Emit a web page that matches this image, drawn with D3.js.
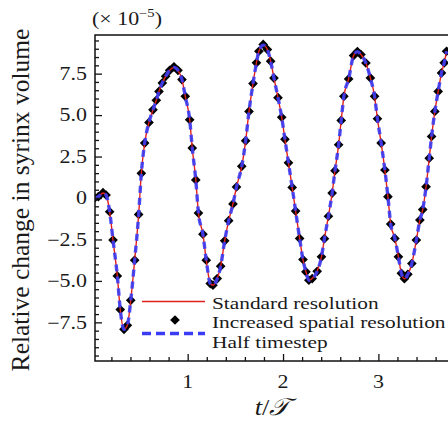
<!DOCTYPE html>
<html><head><meta charset="utf-8">
<script src="https://cdn.jsdelivr.net/npm/d3@7"></script>
<style>
html,body{margin:0;padding:0;background:#fff;overflow:hidden}
text{font-family:"Liberation Serif","Times New Roman",serif;fill:#1a1a1a}
</style></head><body>
<script>
// time samples t/T
const tValues = [0.025,0.063,0.112,0.144,0.182,0.217,0.262,0.293,0.332,0.367,0.403,0.444,0.486,0.514,0.549,0.594,0.636,0.671,0.699,0.734,0.769,0.811,0.856,0.898,0.940,0.975,1.021,1.048,1.085,1.113,1.160,1.195,1.237,1.265,1.310,1.346,1.388,1.430,1.475,1.512,1.567,1.608,1.643,1.685,1.721,1.747,1.792,1.836,1.870,1.905,1.947,1.986,2.020,2.057,2.096,2.132,2.174,2.209,2.240,2.271,2.306,2.358,2.403,2.434,2.476,2.515,2.545,2.583,2.610,2.638,2.688,2.740,2.780,2.817,2.869,2.916,2.960,2.990,3.029,3.068,3.100,3.129,3.173,3.210,3.241,3.273,3.309,3.351,3.398,3.435,3.465,3.500,3.533,3.558,3.592,3.627,3.662,3.690,3.715];
// relative change in syrinx volume (x 1e-5)
const standardRes = [0.00,0.08,0.30,0.18,-0.83,-2.54,-4.70,-6.73,-7.92,-7.68,-6.17,-3.75,-0.99,1.49,3.31,4.56,5.32,5.89,6.43,6.94,7.34,7.70,7.88,7.70,7.14,6.13,4.72,3.01,1.09,-0.91,-2.18,-3.75,-5.16,-5.26,-4.86,-4.11,-2.58,-1.37,-0.36,0.67,1.91,3.45,5.22,6.90,8.15,8.85,9.22,8.95,8.25,7.23,6.05,4.87,3.54,2.12,0.64,-0.79,-2.44,-3.71,-4.45,-4.96,-4.86,-4.42,-3.55,-2.45,-1.10,0.30,1.65,3.21,4.68,6.13,7.18,8.59,8.83,8.65,8.14,7.24,6.13,4.78,3.31,1.69,0.08,-1.57,-2.44,-3.55,-4.54,-4.87,-4.60,-3.95,-2.54,-1.33,-0.70,0.68,2.40,3.71,5.22,6.43,7.54,8.15,8.85];
const increasedRes = [0.00,0.08,0.32,0.18,-0.83,-2.54,-4.70,-6.73,-7.92,-7.68,-6.17,-3.75,-0.99,1.49,3.31,4.56,5.32,5.89,6.43,6.94,7.34,7.70,7.91,7.70,7.14,6.13,4.72,3.01,1.09,-0.91,-2.18,-3.75,-5.16,-5.26,-4.86,-4.11,-2.58,-1.37,-0.36,0.67,1.91,3.45,5.22,6.90,8.15,8.85,9.26,8.95,8.25,7.23,6.05,4.87,3.54,2.12,0.64,-0.79,-2.44,-3.71,-4.45,-4.96,-4.86,-4.42,-3.55,-2.45,-1.10,0.30,1.65,3.21,4.68,6.13,7.18,8.59,8.83,8.65,8.14,7.24,6.13,4.78,3.31,1.69,0.08,-1.57,-2.44,-3.55,-4.54,-4.87,-4.60,-3.95,-2.54,-1.33,-0.70,0.68,2.40,3.71,5.22,6.43,7.54,8.15,8.85];
const halfTimestep = [0.00,0.08,0.30,0.18,-0.83,-2.54,-4.70,-6.73,-7.92,-7.68,-6.17,-3.75,-0.99,1.49,3.31,4.56,5.32,5.89,6.43,6.94,7.34,7.70,7.88,7.70,7.14,6.13,4.72,3.01,1.09,-0.91,-2.18,-3.75,-5.16,-5.26,-4.86,-4.11,-2.58,-1.37,-0.36,0.67,1.91,3.45,5.22,6.90,8.15,8.85,9.22,8.95,8.25,7.23,6.05,4.87,3.54,2.12,0.64,-0.79,-2.44,-3.71,-4.45,-4.96,-4.86,-4.42,-3.55,-2.45,-1.10,0.30,1.65,3.21,4.68,6.13,7.18,8.59,8.83,8.65,8.14,7.24,6.13,4.78,3.31,1.69,0.08,-1.57,-2.44,-3.55,-4.54,-4.87,-4.60,-3.95,-2.54,-1.33,-0.70,0.68,2.40,3.71,5.22,6.43,7.54,8.15,8.85];
const yMajorTicks = [-7.5,-5.0,-2.5,0,2.5,5.0,7.5];
const yTickLabels = ["\u22127.5","\u22125.0","\u22122.5","0","2.5","5.0","7.5"];
const xMajorTicks = [1,2,3];
const xTickLabels = ["1","2","3"];
const legendLabels = ["Standard resolution","Increased spatial resolution","Half timestep"];

const W = 448, H = 421;
const SX = 1.22;   // horizontal stretch of the reference typography
const svg = d3.select("body").append("svg").attr("width",W).attr("height",H);

const x = d3.scaleLinear().domain([0.028,3.73]).range([95,448]);
const y = d3.scaleLinear().domain([-9.83,9.83]).range([361,35]);

const RED = "#e0201c", BLUE = "#3a3cf5";

svg.append("defs").append("clipPath").attr("id","clip")
  .append("rect").attr("x",95).attr("y",35).attr("width",W-95).attr("height",326);

const g = svg.append("g").attr("clip-path","url(#clip)");
const mk = vals => tValues.map((t,i)=>({t, v: vals[i]}));
const line = d3.line().x(d=>x(d.t)).y(d=>y(d.v)).curve(d3.curveMonotoneX);

const diamond = d3.symbol().type(d3.symbolDiamond2).size(60);
g.selectAll("path.dm").data(mk(increasedRes)).join("path").attr("class","dm")
  .attr("d",diamond).attr("transform",d=>`translate(${x(d.t)},${y(d.v)})`).attr("fill","#000");
g.append("path").datum(mk(standardRes)).attr("d",line)
  .attr("fill","none").attr("stroke",RED).attr("stroke-width",1.4);
g.append("path").datum(mk(halfTimestep)).attr("d",line)
  .attr("fill","none").attr("stroke",BLUE).attr("stroke-width",3.4).attr("stroke-dasharray","7,5").attr("opacity",0.9);

// frame
svg.append("rect").attr("x",95).attr("y",35).attr("width",W+20).attr("height",326)
  .attr("fill","none").attr("stroke","#111").attr("stroke-width",1.5);

// y axis ticks (inside)
svg.append("g").attr("transform","translate(95,0)")
  .call(d3.axisRight(y).tickValues(yMajorTicks).tickSize(7).tickFormat(""));
const yMinor = d3.range(-19,20).map(k=>k*0.5).filter(v=>!yMajorTicks.some(m=>Math.abs(m-v)<1e-9));
svg.append("g").attr("transform","translate(95,0)")
  .call(d3.axisRight(y).tickValues(yMinor).tickSize(4).tickFormat(""));
// x axis ticks (inside)
svg.append("g").attr("transform","translate(0,361)")
  .call(d3.axisTop(x).tickValues(xMajorTicks).tickSize(7).tickFormat(""));
const xMinor = d3.range(1,19).map(k=>k*0.2).filter(v=>!xMajorTicks.some(m=>Math.abs(m-v)<1e-9));
svg.append("g").attr("transform","translate(0,361)")
  .call(d3.axisTop(x).tickValues(xMinor).tickSize(4).tickFormat(""));
svg.selectAll(".domain").remove();
svg.selectAll(".tick line").attr("stroke","#111").attr("stroke-width",1.3);

// tick labels
svg.append("g").selectAll("text").data(yMajorTicks).join("text")
  .attr("transform",d=>`translate(87,${y(d)}) scale(${SX},1)`).attr("dy","0.35em").attr("text-anchor","end")
  .attr("font-size",18).text((d,i)=>yTickLabels[i]);
svg.append("g").selectAll("text").data(xMajorTicks).join("text")
  .attr("transform",d=>`translate(${x(d)},388) scale(${SX},1)`).attr("text-anchor","middle")
  .attr("font-size",18).text((d,i)=>xTickLabels[i]);

// multiplier
const mult = svg.append("text").attr("transform",`translate(92,25) scale(${SX},1)`).attr("font-size",18);
mult.append("tspan").text("(\u00d7 10");
mult.append("tspan").attr("dy",-8).attr("font-size",12).text("\u22125");
mult.append("tspan").attr("dy",8).text(")");

// axis labels
svg.append("text").attr("transform","translate(29,200) rotate(-90)").attr("text-anchor","middle")
  .attr("font-size",25.5).text("Relative change in syrinx volume");
const xl = svg.append("text").attr("transform",`translate(272,415) scale(1.1,1)`).attr("text-anchor","middle").attr("font-size",24);
xl.append("tspan").attr("font-style","italic").text("t");
xl.append("tspan").text("/");
xl.append("tspan").attr("font-style","italic").text("\ud835\udcaf");

// legend
const lg = svg.append("g");
lg.append("line").attr("x1",142).attr("x2",205).attr("y1",301.5).attr("y2",301.5).attr("stroke",RED).attr("stroke-width",1.4);
lg.append("path").attr("d",diamond).attr("transform","translate(175,320)").attr("fill","#000");
lg.append("line").attr("x1",142).attr("x2",205).attr("y1",333.5).attr("y2",333.5).attr("stroke",BLUE).attr("stroke-width",3.4).attr("stroke-dasharray","9,5");
lg.selectAll("text").data(legendLabels).join("text")
  .attr("transform",(d,i)=>`translate(212,${308.5+i*19.5}) scale(${SX},1)`).attr("font-size",17.5).text(d=>d);
</script>
</body></html>
